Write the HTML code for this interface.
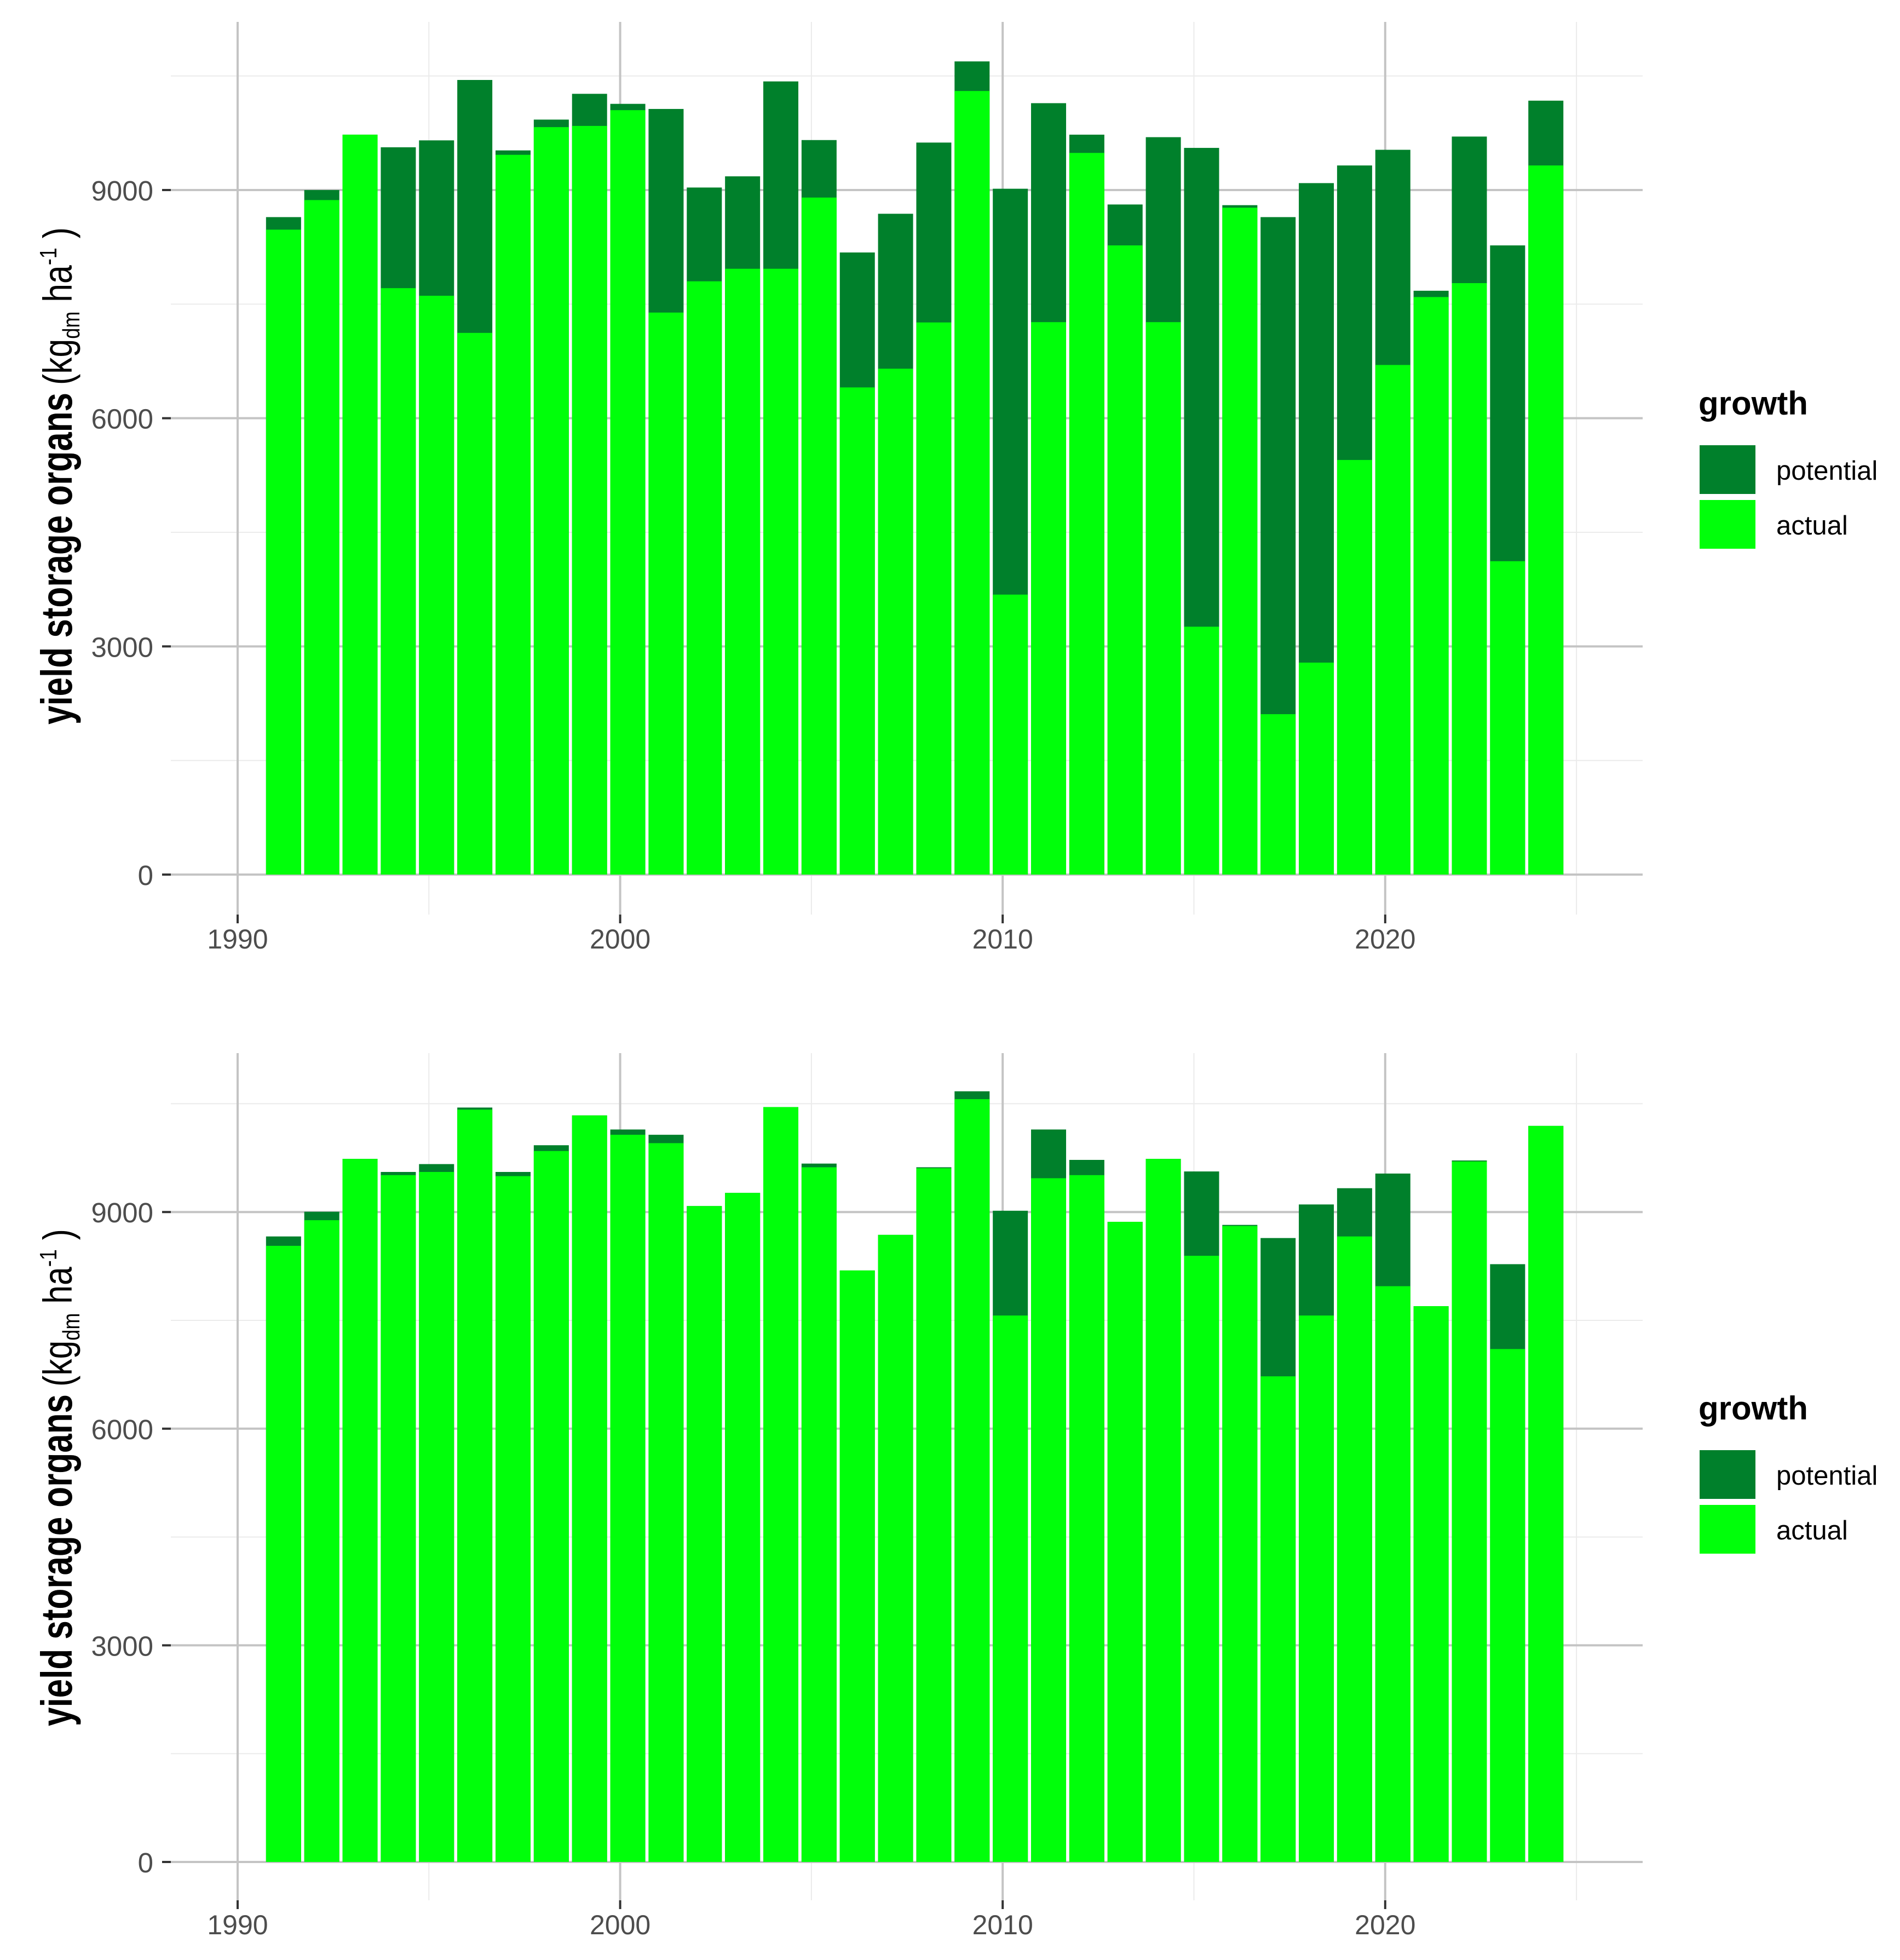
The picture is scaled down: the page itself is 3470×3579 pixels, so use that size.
<!DOCTYPE html>
<html><head><meta charset="utf-8"><style>
body{margin:0;background:#fff}
svg{display:block}
text{font-family:"Liberation Sans",sans-serif}
</style></head><body>
<svg id="chart" width="3470" height="3579" viewBox="0 0 3470 3579" xmlns="http://www.w3.org/2000/svg"></svg>
<script>
const years = [1991,1992,1993,1994,1995,1996,1997,1998,1999,2000,2001,2002,2003,2004,2005,2006,2007,2008,2009,2010,2011,2012,2013,2014,2015,2016,2017,2018,2019,2020,2021,2022,2023,2024];
const topPotential = [8644,9000,9728,9562,9653,10447,9521,9926,10265,10133,10066,9033,9180,10428,9657,8179,8688,9624,10691,9017,10142,9728,8810,9695,9554,8801,8644,9091,9323,9529,7676,9703,8272,10175];
const topActual = [8479,8868,9728,7710,7610,7122,9463,9827,9843,10050,7389,7800,7965,7965,8901,6405,6651,7259,10302,3681,7263,9488,8272,7263,3259,8768,2109,2787,5451,6700,7593,7776,4120,9323];
const bottomPotential = [8662,9004,9736,9555,9664,10447,9555,9925,10338,10143,10070,9083,9265,10454,9671,8191,8684,9620,10672,9018,10143,9722,8865,9736,9562,8822,8640,9105,9330,9533,7697,9714,8278,10193];
const bottomActual = [8532,8887,9736,9511,9555,10418,9497,9845,10338,10070,9954,9083,9265,10454,9620,8191,8684,9606,10563,7567,9468,9511,8865,9736,8394,8807,6725,7567,8662,7973,7697,9700,7103,10193];
const yTicks = [0,3000,6000,9000];
const yMinor = [1500,4500,7500,10500];
const xTicks = [1990,2000,2010,2020];
const xMinor = [1995,2005,2015,2025];
const legendLabels = ["potential","actual"];

const NS="http://www.w3.org/2000/svg";
const svg=document.getElementById('chart');
function mk(tag,attrs,parent){const e=document.createElementNS(NS,tag);for(const k in attrs)e.setAttribute(k,attrs[k]);(parent||svg).appendChild(e);return e;}
const DARK="#00802b", LIGHT="#00ff0a";
const xs = v => 434 + (v-1990)*69.86;

function panel(idx,y0,pxPer3000,top,bottom,pot,act,legDy,titleCenter){
  const ys = v => y0 - v*pxPer3000/3000;
  const g=mk('g',{});
  
  
  const L=312,R=3000;
  yMinor.forEach(v=>{const l=mk('line',{x1:L,x2:R,y1:ys(v),y2:ys(v),stroke:'#ebebeb','stroke-width':2},g);
    });
  xMinor.forEach(v=>{const l=mk('line',{x1:xs(v),x2:xs(v),y1:top,y2:bottom,stroke:'#ebebeb','stroke-width':2},g);
    });
  yTicks.forEach(v=>{const l=mk('line',{x1:L,x2:R,y1:ys(v),y2:ys(v),stroke:'#c4c4c4','stroke-width':4},g);
    
    const tk=mk('line',{x1:296,x2:L,y1:ys(v),y2:ys(v),stroke:'#333','stroke-width':4},g);
    
    const t=mk('text',{x:280,y:ys(v)+19,'text-anchor':'end','font-size':51,fill:'#4d4d4d'},g);
    t.textContent=v;});
  xTicks.forEach(v=>{const l=mk('line',{x1:xs(v),x2:xs(v),y1:top,y2:bottom,stroke:'#c4c4c4','stroke-width':4},g);
    
    const tk=mk('line',{x1:xs(v),x2:xs(v),y1:bottom,y2:bottom+16,stroke:'#333','stroke-width':4},g);
    
    const t=mk('text',{x:xs(v),y:bottom+62,'text-anchor':'middle','font-size':50,fill:'#4d4d4d'},g);
    t.textContent=v;});
  const bw=64;
  years.forEach((yr,i)=>{
    const x=xs(yr+0.2)-bw/2;
    const p=mk('rect',{x:x,y:ys(pot[i]),width:bw,height:ys(0)-ys(pot[i]),fill:DARK},g);
    
    
    const a=mk('rect',{x:x,y:ys(act[i]),width:bw,height:ys(0)-ys(act[i]),fill:LIGHT},g);
    
    
  });
  // y title
  const t=mk('text',{transform:`translate(131,${titleCenter+464}) rotate(-90)`,'text-anchor':'start','font-size':80,'font-weight':'bold',fill:'#000',textLength:606,lengthAdjust:'spacingAndGlyphs'},g);
  t.textContent='yield storage organs';
  
  const u=mk('text',{transform:`translate(131,${titleCenter+464-620}) rotate(-90) scale(0.82,1)`,'text-anchor':'start','font-size':74,fill:'#000'},g);
  
  u.innerHTML='<tspan>(kg</tspan><tspan font-size="44" dy="14">dm</tspan><tspan dy="-14"> ha</tspan><tspan font-size="44" dy="-28">-1</tspan><tspan dy="28"> )</tspan>';
  // legend
  const lg=mk('g',{transform:`translate(0,${legDy})`},g);
  
  const lt=mk('text',{x:3102,y:757,'font-size':60,'font-weight':'bold',fill:'#000'},lg);
  lt.textContent='growth';
  [DARK,LIGHT].forEach((c,k)=>{
    const ky=813+k*100;
    const r=mk('rect',{x:3104,y:ky,width:102,height:89,fill:c},lg);
    
    const tx=mk('text',{x:3244,y:ky+63,'font-size':49,fill:'#000'},lg);
    tx.textContent=legendLabels[k];
  });
}
panel(0,1597,1250/3,40,1670,topPotential,topActual,0,859);
panel(1,3400,395.6,1923,3470,bottomPotential,bottomActual,1835,2688);
</script>
</body></html>
